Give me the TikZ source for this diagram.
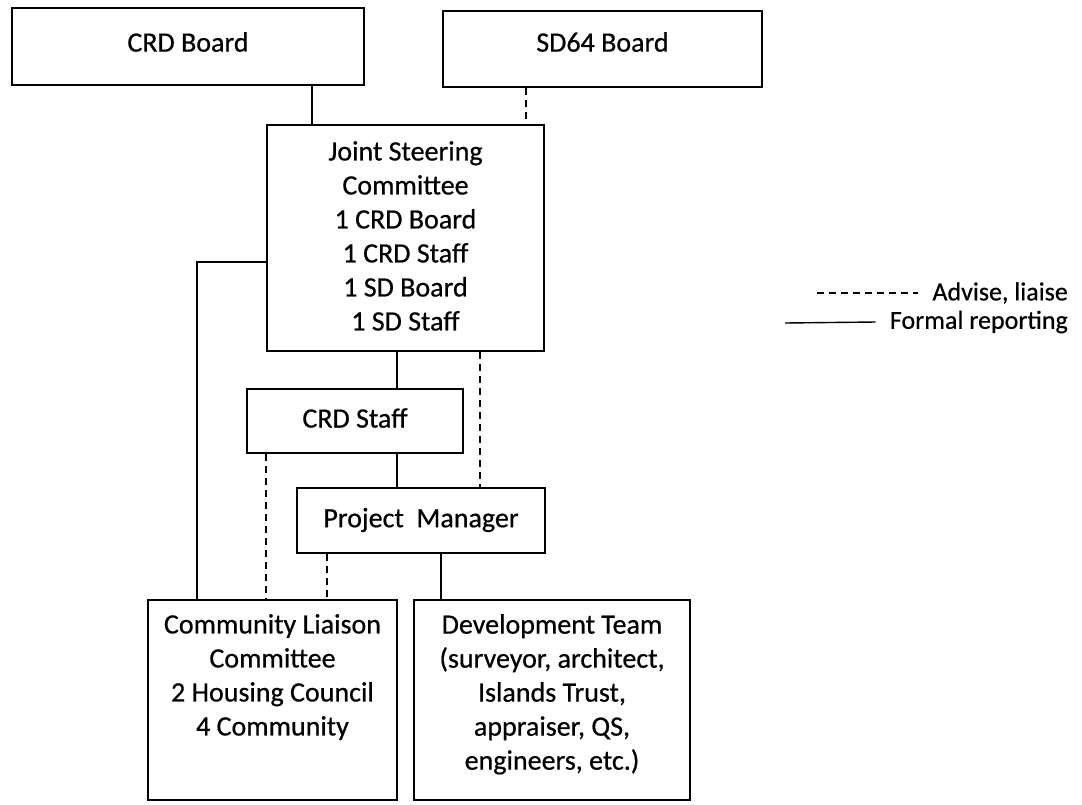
\documentclass[tikz,border=0pt]{standalone}
\usepackage{fontspec}
\setmainfont{Carlito}
\newfontfamily\boxfont{Carlito}[FakeBold=0.6]
\begin{document}
\begin{tikzpicture}[x=1pt,y=-1pt,
  box/.style={draw=black,line width=1.7pt,inner sep=0pt},
  txt/.style={align=center,font=\boxfont\fontsize{28}{34}\selectfont,inner sep=0pt},
  leg/.style={font=\boxfont\fontsize{26}{30}\selectfont,inner sep=0pt,anchor=east},
  solidline/.style={draw=black,line width=1.4pt},
  dashline/.style={draw=black,line width=1.6pt,dash pattern=on 7pt off 5pt}]
\useasboundingbox (0,0) rectangle (1082,804);
% boxes
\node[box,minimum width=352pt,minimum height=77pt] (crd) at (188,46.5) {};
\node[box,minimum width=319pt,minimum height=76pt] (sd) at (602.5,49) {};
\node[box,minimum width=277pt,minimum height=226pt] (jsc) at (405.5,238) {};
\node[box,minimum width=216pt,minimum height=64pt] (crds) at (355,421) {};
\node[box,minimum width=248pt,minimum height=65pt] (pm) at (421,520.5) {};
\node[box,minimum width=249pt,minimum height=200pt] (clc) at (272.5,700) {};
\node[box,minimum width=276pt,minimum height=200pt] (dev) at (552,700) {};
% texts
\node[txt] (crdT) at (188,42) {CRD Board};
\node[txt] (sdT) at (602.5,42) {SD64 Board};
\node[txt,anchor=north] (jscT) at (405.5,141) {Joint Steering\\Committee\\1 CRD Board\\1 CRD Staff\\1 SD Board\\1 SD Staff};
\node[txt] (crdsT) at (355,418) {CRD Staff};
\node[txt] (pmT) at (421,520) {Project\ \ Manager};
\node[txt,anchor=north] (clcT) at (272.5,614) {Community Liaison\\Committee\\2 Housing Council\\4 Community};
\node[txt,anchor=north] (devT) at (552,614) {Development Team\\(surveyor, architect,\\Islands Trust,\\appraiser, QS,\\engineers, etc.)};
% connectors
\draw[solidline] (312,0 |- crd.south) -- (312,0 |- jsc.north);
\draw[dashline] (526,0 |- sd.south) -- (526,0 |- jsc.north);
\draw[solidline] (jsc.west |- 0,262) -- (197,262) -- (197,0 |- clc.north);
\draw[solidline] (397,0 |- jsc.south) -- (397,0 |- crds.north);
\draw[dashline] (480,0 |- jsc.south) -- (480,0 |- pm.north);
\draw[solidline] (397,0 |- crds.south) -- (397,0 |- pm.north);
\draw[dashline] (266,0 |- crds.south) -- (266,0 |- clc.north);
\draw[dashline] (327,0 |- pm.south) -- (327,0 |- clc.north);
\draw[solidline] (441,0 |- pm.south) -- (441,0 |- dev.north);
% legend
\node[leg] (l1) at (1068,293) {Advise, liaise};
\node[leg] (l2) at (1068,322) {Formal reporting};
\coordinate (d1) at (817,293);
\coordinate (s1) at (785,323);
\draw[black,line width=1.4pt,dash pattern=on 7pt off 5pt] (d1) -- ([xshift=-14pt]l1.west);
\draw[black,line width=1.4pt] (s1) -- ([xshift=-14pt]l2.west);
\end{tikzpicture}
\end{document}
